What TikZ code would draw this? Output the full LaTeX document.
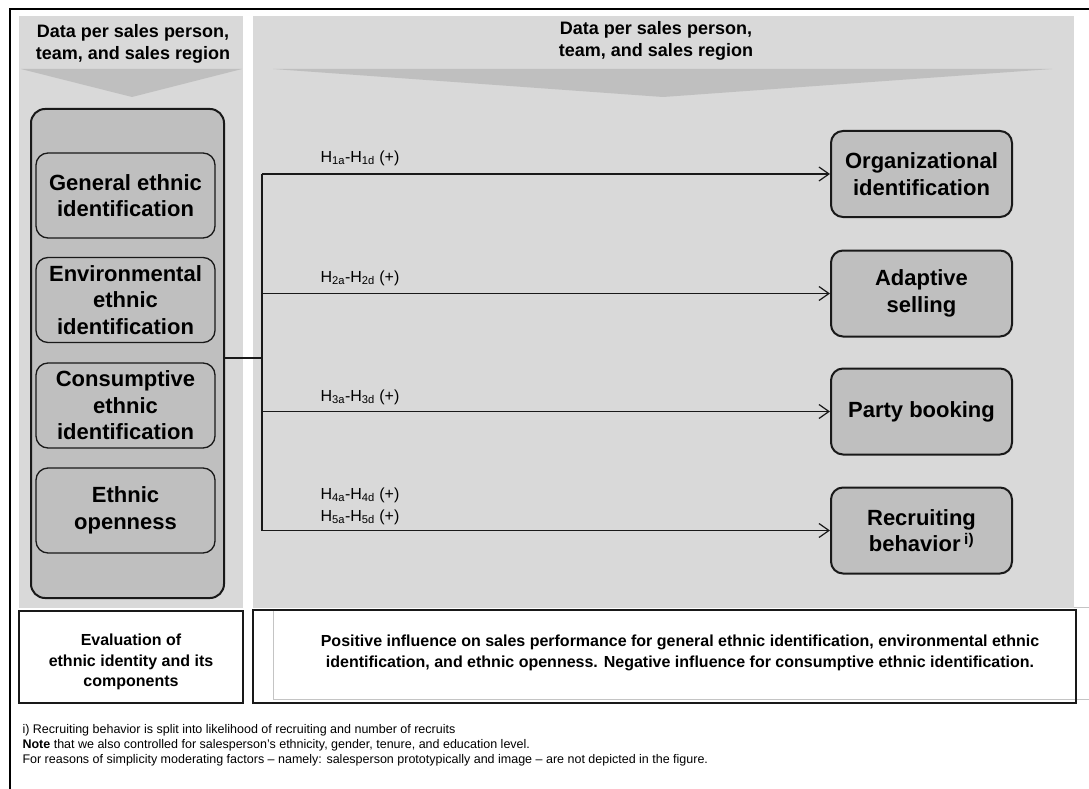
\documentclass[tikz,border=0pt]{standalone}
\usepackage{fontspec}
\setmainfont{Liberation Sans}
\usepackage{tikz}
\usetikzlibrary{arrows.meta,positioning,calc}
\definecolor{panelgray}{HTML}{D9D9D9}
\definecolor{boxgray}{HTML}{BFBFBF}
\definecolor{faintgray}{HTML}{C4C4C4}

\begin{document}
\begin{tikzpicture}[x=1pt,y=-1pt,
  panel/.style={fill=panelgray, draw=none},
  chev/.style={fill=boxgray, draw=none},
  head/.style={align=center, font=\fontsize{18}{21.5}\selectfont\bfseries},
  grpbox/.style={draw=black!90, line width=2pt, rounded corners=14pt, fill=boxgray},
  inbox/.style={draw=black!90, line width=1.3pt, rounded corners=12pt, fill=boxgray,
    minimum width=179pt, minimum height=85pt, align=center,
    font=\fontsize{22}{26.5}\selectfont\bfseries},
  outbox/.style={inbox, line width=2pt, minimum width=181pt, minimum height=86pt},
  evalbox/.style={draw=black!90, line width=2pt, fill=white},
  evaltext/.style={align=center, font=\fontsize{16}{20.5}\selectfont\bfseries},
  hyp/.style={anchor=base west, font=\fontsize{16}{20}\selectfont},
  notetext/.style={anchor=base west, font=\fontsize{12.5}{15}\selectfont},
  link/.style={line width=1.2pt, draw=black!90},
  arr/.style={link, -{Straight Barb[length=10pt,width=14pt,line width=1.2pt]}},
  faint/.style={draw=faintgray, line width=0.8pt}
]
\useasboundingbox (0,0) rectangle (1089,789);

% frame and background panels
\draw[line width=2.5pt] (10,789) -- (10,9) -- (1089,9);
\fill[panel] (19,16) rectangle (243,608);
\fill[panel] (253,16) rectangle (1074,608);
\fill[chev] (21,69) -- (242,69) -- (132,97) -- cycle;
\fill[chev] (273,69) -- (1052,69) -- (663,97) -- cycle;

\node[head] (headl) at (133,44) {Data per sales person,\\team, and sales region};
\node[head] (headr) at (656,41) {Data per sales person,\\team, and sales region};

% left group of identity components
\node[grpbox, minimum width=193pt, minimum height=489pt] (grp) at (127.5,353.5) {};
\node[inbox] (gen) at (125.5,195.5) {General ethnic\\identification};
\node[inbox] (env) at (125.5,300) {Environmental\\ethnic\\identification};
\node[inbox] (cons) at (125.5,405.5) {Consumptive\\ethnic\\identification};
\node[inbox] (open) at (125.5,510.5) {Ethnic\\openness};

% outcomes
\node[outbox] (org) at (921.5,174) {Organizational\\identification};
\node[outbox] (adapt) at (921.5,293.5) {Adaptive\\selling};
\node[outbox] (party) at (921.5,411.5) {Party booking};
\node[outbox] (recr) at (921.5,530.5) {Recruiting\\behavior\,\textsuperscript{i)}};

% connectors
\coordinate (bus) at (262,358);
\draw[link] (grp.east |- bus) -- (bus);
\draw[link] (bus |- org.west) -- (bus |- recr.west);
\draw[arr] (bus |- org.west) -- (org.west);
\draw[arr] (bus |- adapt.west) -- (adapt.west);
\draw[arr] (bus |- party.west) -- (party.west);
\draw[arr] (bus |- recr.west) -- (recr.west);

\node[hyp] (h1) at (317,162) {H\textsubscript{1a}-H\textsubscript{1d} (+)};
\node[hyp] (h2) at (317,282) {H\textsubscript{2a}-H\textsubscript{2d} (+)};
\node[hyp] (h3) at (317,401) {H\textsubscript{3a}-H\textsubscript{3d} (+)};
\node[hyp] (h4) at (317,499) {H\textsubscript{4a}-H\textsubscript{4d} (+)};
\node[hyp] (h5) at (317,521) {H\textsubscript{5a}-H\textsubscript{5d} (+)};

% bottom row
\draw[faint] (19,699) -- (243,699);
\draw[faint] (273,610) -- (273,699) -- (1089,699);
\draw[faint] (1074,607) -- (1089,607);
\node[evalbox, minimum width=224pt, minimum height=92pt] (eval) at (131,657) {};
\node[evaltext] (evaltxt) at (131,662) {Evaluation of\\ethnic identity and its\\components};
\node[evalbox, fill=none, minimum width=823pt, minimum height=93pt] (perf) at (664.5,656.5) {};
\node[evaltext] (perftxt) at (680,653) {Positive influence on sales performance for general ethnic identification, environmental ethnic\\identification, and ethnic openness. Negative influence for consumptive ethnic identification.};

% notes
\node[notetext] (note1) at (19,733.5) {i) Recruiting behavior is split into likelihood of recruiting and number of recruits};
\node[notetext] (note2) at (19,748.5) {\textbf{Note} that we also controlled for salesperson's ethnicity, gender, tenure, and education level.};
\node[notetext] (note3) at (19,763.5) {For reasons of simplicity moderating factors -- namely: salesperson prototypically and image -- are not depicted in the figure.};
\end{tikzpicture}
\end{document}
